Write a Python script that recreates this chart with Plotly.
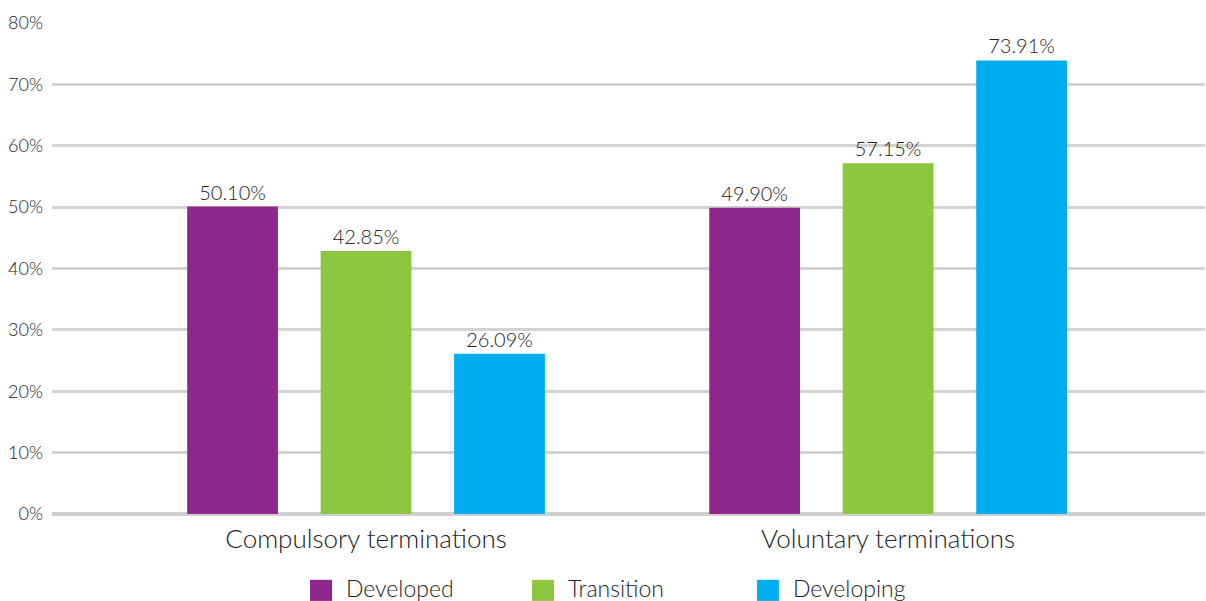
import plotly.graph_objects as go

categories = ["Compulsory terminations", "Voluntary terminations"]
series_names = ["Developed", "Transition", "Developing"]
developed = [50.10, 49.90]
transition = [42.85, 57.15]
developing = [26.09, 73.91]
y_ticks = [0, 10, 20, 30, 40, 50, 60, 70, 80]
y_tick_labels = ["0%", "10%", "20%", "30%", "40%", "50%", "60%", "70%", "80%"]

colors = ["#8E278C", "#8DC63F", "#00AEEF"]
text_color = "#222222"
font_family = "Lato, 'Open Sans', sans-serif"

fig = go.Figure()
for name, vals, col in zip(series_names, [developed, transition, developing], colors):
    fig.add_trace(go.Bar(
        x=categories, y=vals, name=name,
        marker=dict(color=col, line=dict(width=0)),
        text=[f"{v:.2f}%" for v in vals],
        textposition="outside",
        textfont=dict(size=20, color=text_color, family=font_family, weight=300),
        cliponaxis=False,
        showlegend=False,
    ))

# Custom legend: coloured squares with labels below the category axis
legend_x0 = [0.2238, 0.4163, 0.6114]
for name, col, x0 in zip(series_names, colors, legend_x0):
    fig.add_shape(type="rect", xref="paper", yref="paper",
                  x0=x0, x1=x0 + 22 / 1153, y0=-0.177, y1=-0.134,
                  fillcolor=col, line=dict(width=0))
    fig.add_annotation(xref="paper", yref="paper", x=x0 + 34 / 1153, y=-0.151,
                       text=name, showarrow=False, xanchor="left", yanchor="middle",
                       font=dict(size=23, color=text_color, family=font_family, weight=300))

fig.update_layout(
    width=1206, height=601,
    margin=dict(l=52, r=1, t=23, b=87),
    paper_bgcolor="white", plot_bgcolor="white",
    barmode="group", bargap=0.233, bargroupgap=0.32,
    font=dict(family=font_family, color=text_color),
    xaxis=dict(
        type="category", range=[-0.6015, 1.607],
        showgrid=False, zeroline=False, showline=False, ticks="",
        tickfont=dict(size=26, color=text_color, family=font_family, weight=300),
        ticklabelstandoff=7,
    ),
    yaxis=dict(
        range=[0, 80], tickvals=y_ticks, ticktext=y_tick_labels,
        showgrid=True, gridcolor="#D3D3D3", gridwidth=3,
        zeroline=True, zerolinecolor="#CFCFCF", zerolinewidth=4,
        showline=False, ticks="",
        tickfont=dict(size=18, color=text_color, family=font_family, weight=300),
        ticklabelstandoff=8,
    ),
)

fig.write_html("out.html")
